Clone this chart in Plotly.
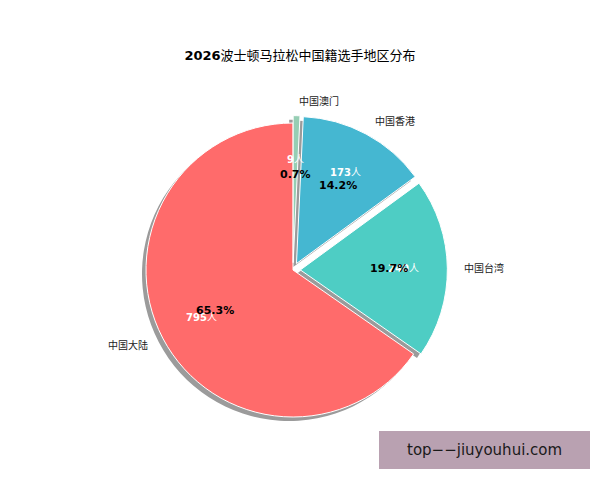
import math
import plotly.graph_objects as go

# ---- data ----
regions = ["中国大陆", "中国台湾", "中国香港", "中国澳门"]
counts = [795, 240, 173, 9]
colors = ["#FF6B6B", "#4ECDC4", "#45B7D1", "#96CEB4"]
explode = [0, 0.05, 0.05, 0.05]
title_text = "<b>2026</b>波士顿马拉松中国籍选手地区分布"

# ---- geometry (page body adds an 8px margin) ----
W, H = 600, 480
OFF = 8
CX, CY, R = 293 - OFF, 270 - OFF, 147
maxpull = max(explode)
half = R * (1 + maxpull)
FONT = "DejaVu Sans, Noto Sans CJK SC, sans-serif"
total = sum(counts)
# first slice starts at 12 o'clock and runs counterclockwise (like startangle=90)
rot = -360 * counts[0] / total


def dom(cx, cy):
    return dict(x=[(cx - half) / W, (cx + half) / W],
                y=[1 - (cy + half) / H, 1 - (cy - half) / H])


fig = go.Figure()

# shadow
fig.add_trace(go.Pie(
    labels=regions, values=counts, sort=False, direction="counterclockwise",
    rotation=rot, pull=explode, domain=dom(CX - 4, CY + 4),
    marker=dict(colors=["#9b9b9b"] * len(counts), line=dict(width=0)),
    textinfo="none", hoverinfo="skip", showlegend=False,
))
# main pie
fig.add_trace(go.Pie(
    labels=regions, values=counts, sort=False, direction="counterclockwise",
    rotation=rot, pull=explode, domain=dom(CX, CY),
    marker=dict(colors=colors, line=dict(width=1, color="white")),
    textinfo="none", hoverinfo="label+value+percent", showlegend=False,
))

annotations = []
cum = 0
for name, v, e in zip(regions, counts, explode):
    theta = math.radians(90 + 360 * (cum + v / 2) / total)
    cum += v
    c, s = math.cos(theta), math.sin(theta)

    def pos(rf):
        return (CX + rf * R * c) / W, 1 - (CY - rf * R * s) / H

    lx, ly = pos(1.1 + e)
    annotations.append(dict(x=lx, y=ly, xref="paper", yref="paper", text=name,
                            showarrow=False, xanchor="left" if c > 0 else "right",
                            yanchor="middle", font=dict(size=10, color="#222", family=FONT)))
    cx_, cy_ = pos(0.7 + e)
    annotations.append(dict(x=cx_, y=cy_, xref="paper", yref="paper", text=f"<b>{v}</b>人",
                            showarrow=False, xanchor="center", yanchor="middle",
                            font=dict(size=10, color="white", family=FONT)))
    px_, py_ = pos(0.6 + e)
    annotations.append(dict(x=px_, y=py_, xref="paper", yref="paper",
                            text=f"<b>{v / total * 100:.1f}%</b>",
                            showarrow=False, xanchor="center", yanchor="middle",
                            font=dict(size=11, color="black", family=FONT)))

# watermark box
annotations.append(dict(x=((379 + 590) / 2 - OFF) / W, y=1 - (450 - OFF) / H,
                        xref="paper", yref="paper",
                        text="top−−jiuyouhui.com", showarrow=False, xanchor="center",
                        yanchor="middle", font=dict(size=15, color="#1a1a1a", family="DejaVu Sans")))

fig.update_layout(
    width=W, height=H,
    margin=dict(l=0, r=0, t=0, b=0),
    paper_bgcolor="white", plot_bgcolor="white",
    title=dict(text=title_text, x=(300 - OFF) / W, xanchor="center", y=1 - 47 / H,
               yanchor="middle", yref="container",
               font=dict(size=13, color="black", family=FONT)),
    annotations=annotations,
    shapes=[dict(type="rect", xref="paper", yref="paper",
                 x0=(379 - OFF) / W, x1=(590 - OFF) / W,
                 y0=1 - (469 - OFF) / H, y1=1 - (431 - OFF) / H,
                 fillcolor="#b9a1b1", line=dict(width=0), layer="above")],
)

fig.write_html("out.html")
